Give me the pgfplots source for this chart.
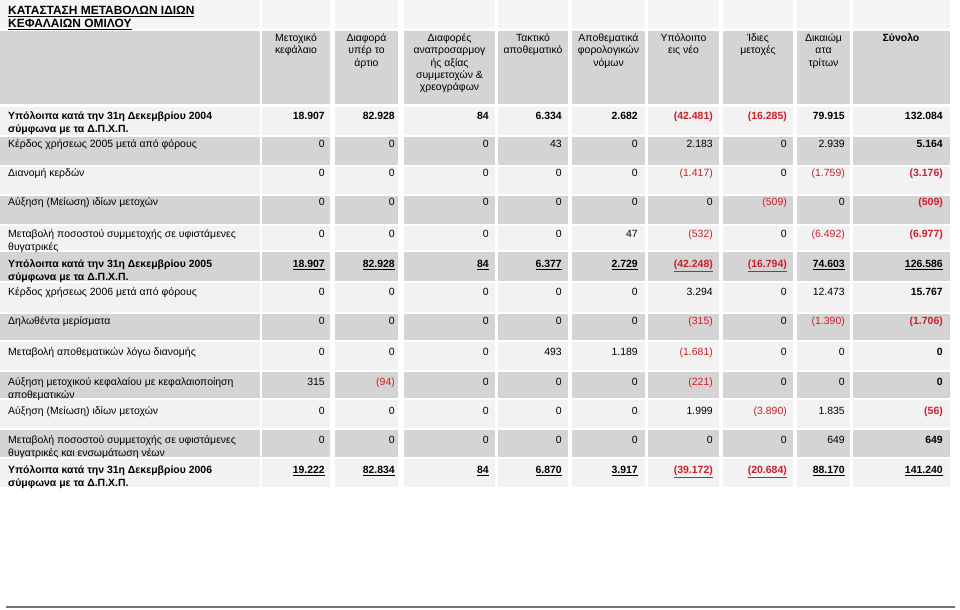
\documentclass[border=0pt]{standalone}
\usepackage{fontspec}
\setmainfont{Liberation Sans}
\usepackage{pgfplots}
\pgfplotsset{compat=1.18}
\definecolor{lightc}{RGB}{242,242,242}
\definecolor{topc}{RGB}{245,245,245}
\definecolor{grayc}{RGB}{212,212,212}
\definecolor{negred}{RGB}{204,30,40}
\newcommand{\rowfill}[3]{%
 \fill[#3] (axis cs:0,#1) rectangle (axis cs:260,#2);
 \fill[#3] (axis cs:262,#1) rectangle (axis cs:330,#2);
 \fill[#3] (axis cs:335,#1) rectangle (axis cs:398,#2);
 \fill[#3] (axis cs:404,#1) rectangle (axis cs:495,#2);
 \fill[#3] (axis cs:498,#1) rectangle (axis cs:568,#2);
 \fill[#3] (axis cs:572,#1) rectangle (axis cs:645,#2);
 \fill[#3] (axis cs:648,#1) rectangle (axis cs:719,#2);
 \fill[#3] (axis cs:723,#1) rectangle (axis cs:793,#2);
 \fill[#3] (axis cs:797,#1) rectangle (axis cs:850,#2);
 \fill[#3] (axis cs:853,#1) rectangle (axis cs:950,#2);}
\newcommand{\R}[1]{\textcolor{negred}{#1}}
\newcommand{\U}[1]{\underline{#1}}
% data row split in two parts: baseline, then values
\newcommand{\drowA}[6]{%
 \node[anchor=base east] at (axis cs:325,#1) {#2};
 \node[anchor=base east] at (axis cs:395,#1) {#3};
 \node[anchor=base east] at (axis cs:489,#1) {#4};
 \node[anchor=base east] at (axis cs:562,#1) {#5};
 \node[anchor=base east] at (axis cs:638,#1) {#6};}
\newcommand{\drowB}[5]{%
 \node[anchor=base east] at (axis cs:713,#1) {#2};
 \node[anchor=base east] at (axis cs:787,#1) {#3};
 \node[anchor=base east] at (axis cs:845,#1) {#4};
 \node[anchor=base east] at (axis cs:943,#1) {#5};}
\newcommand{\lab}[2]{\node[anchor=base west] at (axis cs:8,#1) {#2};}
\newcommand{\hl}[3]{\node[anchor=base] at (axis cs:#1,#2) {#3};}
\begin{document}
\begin{tikzpicture}[every node/.style={inner sep=0pt,font=\fontsize{10.5}{12.5}\selectfont}]
\begin{axis}[width=960bp,height=610bp,scale only axis,xmin=0,xmax=960,ymin=0,ymax=610,
  y dir=reverse,hide axis,clip=false]
\path (axis cs:0,0) rectangle (axis cs:960,610);
% backgrounds
\rowfill{0}{28}{topc}
\rowfill{31}{104}{grayc}
\rowfill{107}{135}{lightc}
\rowfill{137}{165}{grayc}
\rowfill{167}{194}{lightc}
\rowfill{196}{224}{grayc}
\rowfill{226}{250}{lightc}
\rowfill{252}{281}{grayc}
\rowfill{283}{312}{lightc}
\rowfill{314}{340}{grayc}
\rowfill{342}{370}{lightc}
\rowfill{372}{398}{grayc}
\rowfill{400}{428}{lightc}
\rowfill{430}{457}{grayc}
\rowfill{459}{487}{lightc}
\fill[black!55] (axis cs:6,605.5) rectangle (axis cs:955,608);
% title
\node[anchor=base west,font=\fontsize{12}{13}\selectfont\bfseries] at (axis cs:8,15) {\underline{ΚΑΤΑΣΤΑΣΗ ΜΕΤΑΒΟΛΩΝ ΙΔΙΩΝ}};
\node[anchor=base west,font=\fontsize{12}{13}\selectfont\bfseries] at (axis cs:8,27.5) {\underline{ΚΕΦΑΛΑΙΩΝ ΟΜΙΛΟΥ}};
% header
\hl{296}{41.5}{Μετοχικό}\hl{296}{53.8}{κεφάλαιο}
\hl{366.5}{41.5}{Διαφορά}\hl{366.5}{53.8}{υπέρ το}\hl{366.5}{66.1}{άρτιο}
\hl{449.5}{41.5}{Διαφορές}\hl{449.5}{53.8}{αναπροσαρμογ}\hl{449.5}{66.1}{ής αξίας}\hl{449.5}{78.5}{συμμετοχών \&}\hl{449.5}{90.8}{χρεογράφων}
\hl{533}{41.5}{Τακτικό}\hl{533}{53.8}{αποθεματικό}
\hl{608.5}{41.5}{Αποθεματικά}\hl{608.5}{53.8}{φορολογικών}\hl{608.5}{66.1}{νόμων}
\hl{683.5}{41.5}{Υπόλοιπο}\hl{683.5}{53.8}{εις νέο}
\hl{758}{41.5}{Ίδιες}\hl{758}{53.8}{μετοχές}
\hl{823.5}{41.5}{Δικαιώμ}\hl{823.5}{53.8}{ατα}\hl{823.5}{66.1}{τρίτων}
\hl{901}{41.5}{\textbf{Σύνολο}}
% labels
\lab{119.5}{\textbf{Υπόλοιπα κατά την 31η Δεκεμβρίου 2004}}
\lab{133}{\textbf{σύμφωνα με τα Δ.Π.Χ.Π.}}
\lab{148}{Κέρδος χρήσεως 2005 μετά από φόρους}
\lab{177}{Διανομή κερδών}
\lab{206}{Αύξηση (Μείωση) ιδίων μετοχών}
\lab{237.5}{Μεταβολή ποσοστού συμμετοχής σε υφιστάμενες}
\lab{250.5}{θυγατρικές}
\lab{267.5}{\textbf{Υπόλοιπα κατά την 31η Δεκεμβρίου 2005}}
\lab{280.5}{\textbf{σύμφωνα με τα Δ.Π.Χ.Π.}}
\lab{295}{Κέρδος χρήσεως 2006 μετά από φόρους}
\lab{324.5}{Δηλωθέντα μερίσματα}
\lab{355}{Μεταβολή αποθεματικών λόγω διανομής}
\lab{385}{Αύξηση μετοχικού κεφαλαίου με κεφαλαιοποίηση}
\lab{398}{αποθεματικών}
\lab{414}{Αύξηση (Μείωση) ιδίων μετοχών}
\lab{443.5}{Μεταβολή ποσοστού συμμετοχής σε υφιστάμενες}
\lab{456.5}{θυγατρικές και ενσωμάτωση νέων}
\lab{473.5}{\textbf{Υπόλοιπα κατά την 31η Δεκεμβρίου 2006}}
\lab{486.5}{\textbf{σύμφωνα με τα Δ.Π.Χ.Π.}}
% data
\drowA{119.5}{\textbf{18.907}}{\textbf{82.928}}{\textbf{84}}{\textbf{6.334}}{\textbf{2.682}}
\drowB{119.5}{\textbf{\R{(42.481)}}}{\textbf{\R{(16.285)}}}{\textbf{79.915}}{\textbf{132.084}}
\drowA{148}{0}{0}{0}{43}{0}
\drowB{148}{2.183}{0}{2.939}{\textbf{5.164}}
\drowA{177}{0}{0}{0}{0}{0}
\drowB{177}{\R{(1.417)}}{0}{\R{(1.759)}}{\textbf{\R{(3.176)}}}
\drowA{206}{0}{0}{0}{0}{0}
\drowB{206}{0}{\R{(509)}}{0}{\textbf{\R{(509)}}}
\drowA{237.5}{0}{0}{0}{0}{47}
\drowB{237.5}{\R{(532)}}{0}{\R{(6.492)}}{\textbf{\R{(6.977)}}}
\drowA{267.5}{\textbf{\U{18.907}}}{\textbf{\U{82.928}}}{\textbf{\U{84}}}{\textbf{\U{6.377}}}{\textbf{\U{2.729}}}
\drowB{267.5}{\textbf{\R{\U{(42.248)}}}}{\textbf{\R{\U{(16.794)}}}}{\textbf{\U{74.603}}}{\textbf{\U{126.586}}}
\drowA{295}{0}{0}{0}{0}{0}
\drowB{295}{3.294}{0}{12.473}{\textbf{15.767}}
\drowA{324.5}{0}{0}{0}{0}{0}
\drowB{324.5}{\R{(315)}}{0}{\R{(1.390)}}{\textbf{\R{(1.706)}}}
\drowA{355}{0}{0}{0}{493}{1.189}
\drowB{355}{\R{(1.681)}}{0}{0}{\textbf{0}}
\drowA{385}{315}{\R{(94)}}{0}{0}{0}
\drowB{385}{\R{(221)}}{0}{0}{\textbf{0}}
\drowA{414}{0}{0}{0}{0}{0}
\drowB{414}{1.999}{\R{(3.890)}}{1.835}{\textbf{\R{(56)}}}
\drowA{443.5}{0}{0}{0}{0}{0}
\drowB{443.5}{0}{0}{649}{\textbf{649}}
\drowA{473.5}{\textbf{\U{19.222}}}{\textbf{\U{82.834}}}{\textbf{\U{84}}}{\textbf{\U{6.870}}}{\textbf{\U{3.917}}}
\drowB{473.5}{\textbf{\R{\U{(39.172)}}}}{\textbf{\R{\U{(20.684)}}}}{\textbf{\U{88.170}}}{\textbf{\U{141.240}}}
\end{axis}
\end{tikzpicture}
\end{document}
